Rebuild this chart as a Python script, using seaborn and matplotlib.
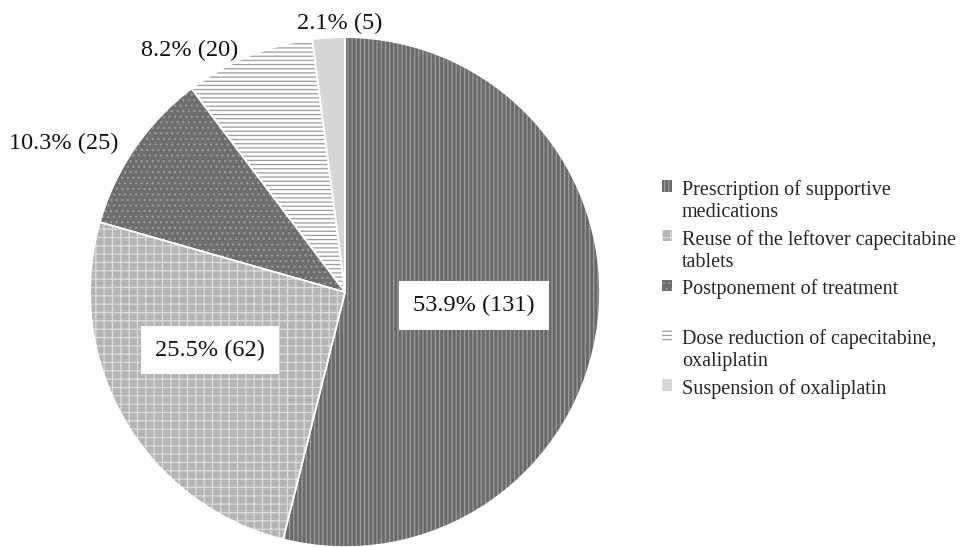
import matplotlib
matplotlib.use("Agg")
import matplotlib.pyplot as plt
import seaborn as sns

# Measures taken to manage adverse events
categories = [
    "Prescription of supportive\nmedications",
    "Reuse of the leftover capecitabine\ntablets",
    "Postponement of treatment\n",
    "Dose reduction of capecitabine,\noxaliplatin",
    "Suspension of oxaliplatin",
]
counts = [131, 62, 25, 20, 5]
pct_labels = ["53.9% (131)", "25.5% (62)", "10.3% (25)", "8.2% (20)", "2.1% (5)"]

# styling (kept apart from the data)
face_colors = ["#6a6a6a", "#b4b4b4", "#6e6e6e", "#ffffff", "#d6d6d6"]
hatch_colors = ["#9c9c9c", "#dcdcdc", "#9a9a9a", "#9c9c9c", "#e6e6e6"]
hatches = ["||||", "++", "...", "----", ""]
label_pos = [(0.506, -0.051), (-0.529, -0.227), (-1.102, 0.584), (-0.608, 0.949), (-0.02, 1.055)]
label_box = [True, True, False, False, False]

sns.set_theme(style="white")
plt.rcParams["font.family"] = ["Liberation Serif", "DejaVu Serif"]
plt.rcParams["hatch.linewidth"] = 0.9

fig = plt.figure(figsize=(9.68, 5.47), dpi=100)
ax = fig.add_axes([0.093, 0.0, 0.527, 0.932])

wedges, _ = ax.pie(counts, startangle=90, counterclock=False, radius=1.0,
                   colors=face_colors)
for w, hc, h in zip(wedges, hatch_colors, hatches):
    w.set_hatch(h)
    w.set_edgecolor(hc)
    w.set_linewidth(0)

# thin white separators between slices
ax.pie(counts, startangle=90, counterclock=False, radius=1.0,
       colors=["none"] * len(counts),
       wedgeprops=dict(edgecolor="white", linewidth=1.2))

for txt, (x, y), boxed in zip(pct_labels, label_pos, label_box):
    kw = {}
    if boxed:
        kw["bbox"] = dict(facecolor="white", edgecolor="none", pad=10)
    ax.text(x, y, txt, ha="center", va="center", fontsize=17.5,
            color="#111111", **kw)

ax.set_xlim(-1, 1)
ax.set_ylim(-1, 1)
ax.set_aspect("equal")
ax.axis("off")

leg = fig.legend(wedges, categories, loc="upper left", bbox_to_anchor=(0.665, 0.704),
                 frameon=False, fontsize=14.5, handlelength=0.5, handleheight=0.5,
                 handletextpad=0.5, labelspacing=0.4)
for col in leg._legend_handle_box.get_children():
    for row in col.get_children():
        row.align = "top"

fig.savefig("out.png", dpi=100)
